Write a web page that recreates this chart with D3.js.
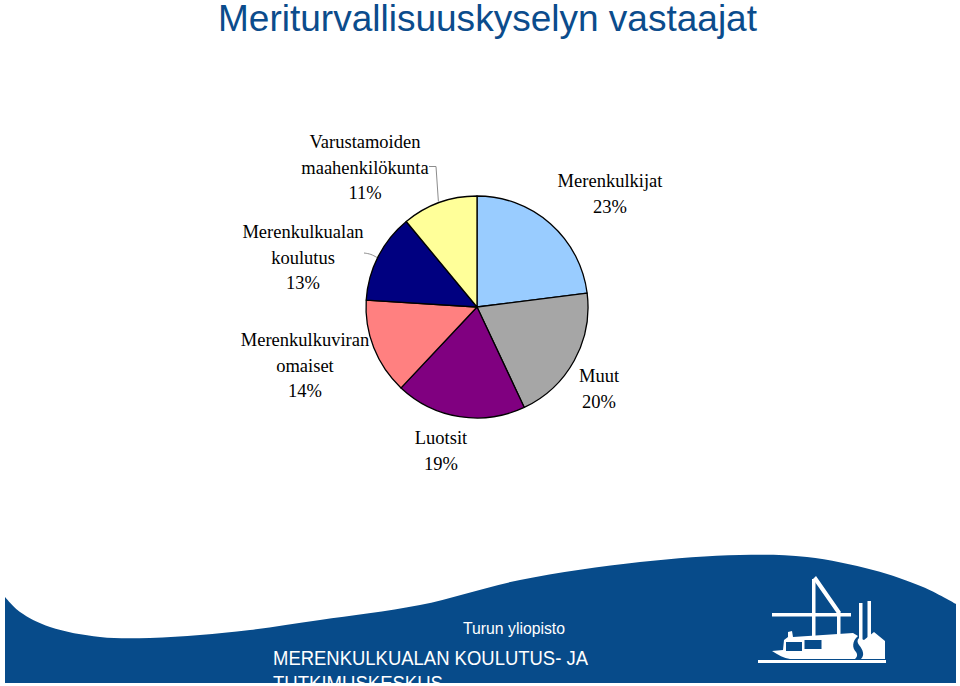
<!DOCTYPE html>
<html>
<head>
<meta charset="utf-8">
<script src="https://cdn.jsdelivr.net/npm/d3@7"></script>
<style>
  html, body { margin: 0; padding: 0; background: #fff; }
  svg { display: block; }
</style>
</head>
<body>
<svg id="chart" width="960" height="686"></svg>
<script>
// ---- Data ----
const categories = ["Merenkulkijat", "Muut", "Luotsit", "Merenkulkuviran omaiset", "Merenkulkualan koulutus", "Varustamoiden maahenkilökunta"];
const labelLines = [["Merenkulkijat"], ["Muut"], ["Luotsit"], ["Merenkulkuviran", "omaiset"], ["Merenkulkualan", "koulutus"], ["Varustamoiden", "maahenkilökunta"]];
const values = [23, 20, 19, 14, 13, 11];
const sliceColors = ["#99CCFF", "#A6A6A6", "#800080", "#FF8080", "#000080", "#FFFF99"];
const title = "Meriturvallisuuskyselyn vastaajat";
const footerSmall = "Turun yliopisto";
const footerLines = ["MERENKULKUALAN KOULUTUS- JA", "TUTKIMUSKESKUS"];

// ---- Layout (positions only) ----
const cx = 477, cy = 307, R = 111;
// label centre x and baseline of first line
const labelPos = [[610, 187], [599, 382], [441, 444], [305, 346], [303, 238], [365, 148]];
const lineH = 25.6;

const svg = d3.select("#chart");
const blue = "#0B4C8C";

// Title
svg.append("text")
  .attr("x", 218).attr("y", 31)
  .attr("font-family", "'Liberation Sans', Arial, sans-serif")
  .attr("font-size", 36)
  .attr("textLength", 539).attr("lengthAdjust", "spacingAndGlyphs")
  .attr("fill", blue)
  .text(title);

// Pie
const pie = d3.pie().sort(null).value(d => d).startAngle(0).endAngle(2 * Math.PI);
const arcs = pie(values);
const arc = d3.arc().innerRadius(0).outerRadius(R);
const g = svg.append("g").attr("transform", `translate(${cx},${cy})`);
g.selectAll("path.slice").data(arcs).enter().append("path")
  .attr("class", "slice")
  .attr("d", arc)
  .attr("fill", (d, i) => sliceColors[i])
  .attr("stroke", "#000")
  .attr("stroke-width", 1.3)
  .attr("stroke-linejoin", "round");

// Leader lines (to slice edge midpoints)
const edgePoint = (d) => {
  const a = (d.startAngle + d.endAngle) / 2;
  return [cx + R * Math.sin(a), cy - R * Math.cos(a)];
};
const p5 = edgePoint(arcs[5]);
svg.append("path")
  .attr("d", d3.line()([[429, 166.5], [436, 166.5], [p5[0] - 1, p5[1] - 1]]))
  .attr("fill", "none").attr("stroke", "#8c8c8c").attr("stroke-width", 1);
const p4 = edgePoint(arcs[4]);
svg.append("path")
  .attr("d", d3.line().curve(d3.curveBasis)([[364, 253], [371, 254], [p4[0] - 1, p4[1] + 1]]))
  .attr("fill", "none").attr("stroke", "#8c8c8c").attr("stroke-width", 1);

// Labels
const fmt = d3.format(".0f");
arcs.forEach((d, i) => {
  const lines = labelLines[i].concat([fmt(values[i]) + "%"]);
  const t = svg.append("text")
    .attr("font-family", "'Liberation Serif', 'Times New Roman', serif")
    .attr("font-size", 18.5)
    .attr("fill", "#000")
    .attr("text-anchor", "middle");
  lines.forEach((ln, j) => {
    t.append("tspan")
      .attr("x", labelPos[i][0])
      .attr("y", labelPos[i][1] + j * lineH)
      .text(ln);
  });
});

// ---- Footer wave ----
const defs = svg.append("defs");
const wavePts = [[5, 597], [20, 612], [50, 627], [100, 637], [150, 638], [200, 635], [250, 630], [320, 620], [420, 605], [520, 580], [640, 562], [740, 555], [807, 557], [873, 570], [923, 587], [956, 604]];
const waveTop = d3.line().curve(d3.curveCatmullRom)(wavePts);
const wavePath = waveTop + " L956,683 L5,683 Z";
defs.append("clipPath").attr("id", "footclip").append("path").attr("d", wavePath);
svg.append("path").attr("d", wavePath).attr("fill", "#074B8A");

const foot = svg.append("g").attr("clip-path", "url(#footclip)");
foot.append("text")
  .attr("x", 463).attr("y", 634)
  .attr("font-family", "'Liberation Sans', Arial, sans-serif")
  .attr("font-size", 16)
  .attr("textLength", 102).attr("lengthAdjust", "spacingAndGlyphs")
  .attr("fill", "#fff").text(footerSmall);
foot.append("text")
  .attr("x", 273).attr("y", 665)
  .attr("font-family", "'Liberation Sans', Arial, sans-serif")
  .attr("font-size", 20.5)
  .attr("textLength", 315).attr("lengthAdjust", "spacingAndGlyphs")
  .attr("fill", "#fff").text(footerLines[0]);
foot.append("text")
  .attr("x", 273).attr("y", 690)
  .attr("font-family", "'Liberation Sans', Arial, sans-serif")
  .attr("font-size", 20.5)
  .attr("textLength", 170).attr("lengthAdjust", "spacingAndGlyphs")
  .attr("fill", "#fff").text(footerLines[1]);

// ---- Logo ----
const logo = svg.append("g").attr("fill", "#fff").attr("stroke", "none");
// base line
logo.append("rect").attr("x", 758).attr("y", 660).attr("width", 128).attr("height", 3);
// crane beam
logo.append("rect").attr("x", 772).attr("y", 613).attr("width", 79).attr("height", 3.5);
// crane legs
logo.append("rect").attr("x", 812).attr("y", 579).attr("width", 3.5).attr("height", 61);
logo.append("rect").attr("x", 837).attr("y", 612).attr("width", 3.5).attr("height", 28);
logo.append("path").attr("d", "M812,580 L816,576 L841,612 L837,613.5 L815,582 Z");
// chimneys
logo.append("rect").attr("x", 859).attr("y", 603).attr("width", 3.5).attr("height", 42);
logo.append("rect").attr("x", 867.5).attr("y", 601).attr("width", 3.5).attr("height", 44);
// ship hull
logo.append("path").attr("d", "M772,651 L783,650 L784,640 L788,637 L788,632 L792,631 L793,637 L853,633 L858,636 C852,641 852,648 856,652 C858,655 857,657 855,659 L790,659 C784,658 778,655 772,651 Z");
// windows
logo.append("rect").attr("x", 786).attr("y", 642).attr("width", 16).attr("height", 9).attr("fill", "#074B8A");
logo.append("rect").attr("x", 804.5).attr("y", 640).attr("width", 17).attr("height", 9).attr("fill", "#074B8A");
// right hull piece
logo.append("path").attr("d", "M859,638 L864,640 L874,632 L885,641 L885,659 L861,659 C865,655 863,650 859,645 C857,642 857,640 859,638 Z");
</script>
</body>
</html>
